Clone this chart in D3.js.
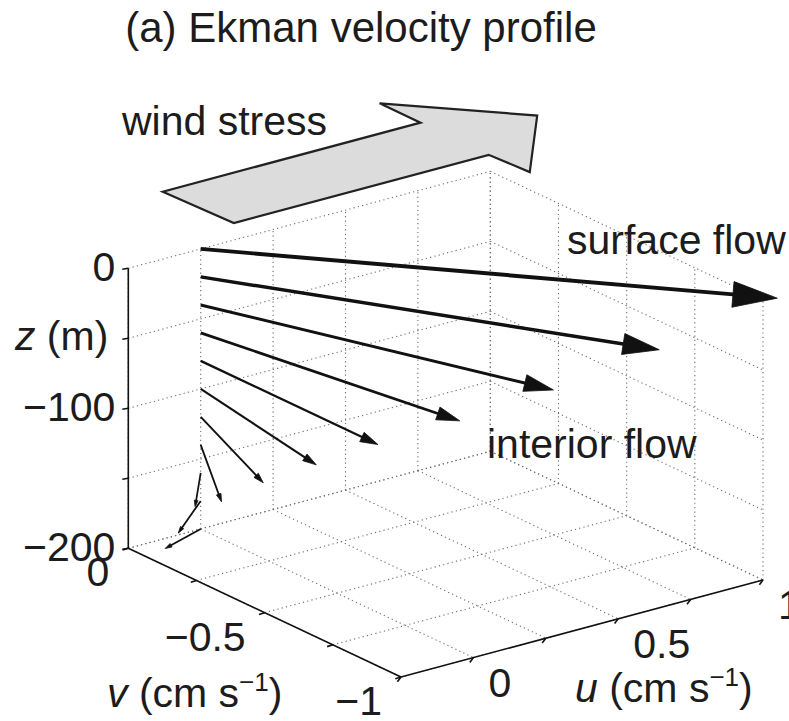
<!DOCTYPE html>
<html><head><meta charset="utf-8">
<script src="https://cdn.jsdelivr.net/npm/d3@7"></script>
<style>
body{margin:0;background:#fff}
svg{display:block}
text{font-family:"Liberation Sans",Arial,Helvetica,sans-serif;fill:#1c1c1c}
</style>
</head><body>
<svg id="c" width="789" height="721"></svg>
<script>
// ---------------- data ----------------
const depths = [0, -20, -40, -60, -80, -100, -120, -140, -160, -180, -200];      // z (m)
const uVel   = [1.04, 0.67, 0.38, 0.16, 0.00, -0.10, -0.17, -0.22, -0.17, -0.20, -0.17]; // u (cm/s)
const vVel   = [-1.01, -0.97, -0.89, -0.78, -0.65, -0.53, -0.41, -0.31, -0.16, -0.13, -0.05]; // v (cm/s)

const uTicks = [-0.25, 0, 0.25, 0.5, 0.75, 1];
const vTicks = [0, -0.25, -0.5, -0.75, -1];
const zTicks = [0, -50, -100, -150, -200];
const uLabelTicks = [0, 0.5, 1];
const uLabelTexts = ["0", "0.5", "1"];
const vLabelTicks = [0, -0.5, -1];
const vLabelTexts = ["0", "\u22120.5", "\u22121"];
const zLabelTicks = [0, -100, -200];
const zLabelTexts = ["0", "\u2212100", "\u2212200"];

// wind-stress arrow outline (u, v) lying flat at height windZ
const windU = [-0.47, -0.46, 0.42, 0.43, 0.71, 0.42, 0.42];
const windV = [-0.36, -0.61, -0.61, -0.75, -0.48, -0.21, -0.36];
const windZ = 100;

// ---------------- projection ----------------
const su = d3.scaleLinear().domain([-0.25, 1]).range([0, 1]);
const sv = d3.scaleLinear().domain([0, -1]).range([0, 1]);
const sz = d3.scaleLinear().domain([-200, 0]).range([0, 1]);
const O = [128.3, 548.3], U = [362, -97], V = [272.7, 128.7], Z = [0, -280];
function P(u, v, z) {
  const a = su(u), b = sv(v), c = sz(z);
  return [O[0] + a*U[0] + b*V[0] + c*Z[0], O[1] + a*U[1] + b*V[1] + c*Z[1]];
}

const svg = d3.select("#c");
const line = d3.line();

// ---------------- grid ----------------
const grid = svg.append("g").attr("fill", "none").attr("stroke", "#555")
  .attr("stroke-width", 1.1).attr("stroke-dasharray", "1.2,3.2").attr("opacity", 0.85);
const segs = [];
// floor
uTicks.forEach(u => segs.push([P(u, 0, -200), P(u, -1, -200)]));
vTicks.forEach(v => segs.push([P(-0.25, v, -200), P(1, v, -200)]));
// back wall v = 0
uTicks.forEach(u => segs.push([P(u, 0, -200), P(u, 0, 0)]));
zTicks.forEach(z => segs.push([P(-0.25, 0, z), P(1, 0, z)]));
// back wall u = 1
vTicks.forEach(v => segs.push([P(1, v, -200), P(1, v, 0)]));
zTicks.forEach(z => segs.push([P(1, 0, z), P(1, -1, z)]));
grid.selectAll("path").data(segs).join("path").attr("d", d => line(d));

// ---------------- axes ----------------
const ax = svg.append("g").attr("fill", "none").attr("stroke", "#111").attr("stroke-width", 1.6);
ax.append("path").attr("d", line([P(-0.25, 0, 0), P(-0.25, 0, -200)]));
ax.append("path").attr("d", line([P(-0.25, 0, -200), P(-0.25, -1, -200)]));
ax.append("path").attr("d", line([P(-0.25, -1, -200), P(1, -1, -200)]));
const tl = 6;
zTicks.forEach(z => { const p = P(-0.25, 0, z); ax.append("path").attr("d", line([p, [p[0]-tl, p[1]+1]])); });
vTicks.forEach(v => { const p = P(-0.25, v, -200); ax.append("path").attr("d", line([p, [p[0]-tl*0.95, p[1]+tl*0.3]])); });
uTicks.forEach(u => { const p = P(u, -1, -200); ax.append("path").attr("d", line([p, [p[0]-tl*0.6, p[1]+tl*0.8]])); });

// ---------------- tick labels ----------------
const fs = 41;
zLabelTicks.forEach((z, i) => {
  const p = P(-0.25, 0, z);
  svg.append("text").attr("x", p[0]-13).attr("y", p[1]+13).attr("text-anchor", "end")
    .attr("font-size", fs).text(zLabelTexts[i]);
});
vLabelTicks.forEach((v, i) => {
  const p = P(-0.25, v, -200);
  svg.append("text").attr("x", p[0]-19).attr("y", p[1]+38).attr("text-anchor", "end")
    .attr("font-size", fs).text(vLabelTexts[i]);
});
uLabelTicks.forEach((u, i) => {
  const p = P(u, -1, -200);
  svg.append("text").attr("x", p[0]+15).attr("y", p[1]+39).attr("text-anchor", "start")
    .attr("font-size", fs).text(uLabelTexts[i]);
});

// axis titles
function unitLabel(x, y, sym, anchor) {
  const t = svg.append("text").attr("x", x).attr("y", y).attr("font-size", fs).attr("text-anchor", anchor || "start");
  t.append("tspan").attr("font-style", "italic").text(sym);
  t.append("tspan").text(" (cm s");
  t.append("tspan").attr("font-size", 26).attr("dy", -16).text("\u22121");
  t.append("tspan").attr("dy", 16).text(")");
}
unitLabel(107, 707, "v");
unitLabel(575, 702, "u");
{
  const p = P(-0.25, 0, -50);
  const t = svg.append("text").attr("x", p[0]-20).attr("y", p[1]+12).attr("text-anchor", "end").attr("font-size", fs);
  t.append("tspan").attr("font-style", "italic").text("z");
  t.append("tspan").text(" (m)");
}

// ---------------- wind stress arrow ----------------
const windPts = windU.map((u, i) => P(u, windV[i], windZ));
svg.append("path").attr("d", line(windPts) + "Z")
  .attr("fill", "#dcdcdc").attr("stroke", "#222").attr("stroke-width", 2.2).attr("stroke-linejoin", "miter");

// ---------------- Ekman velocity arrows ----------------
const arr = svg.append("g");
depths.forEach((z, i) => {
  const s = P(0, 0, z), e = P(uVel[i], vVel[i], z);
  const dx = e[0]-s[0], dy = e[1]-s[1], L = Math.hypot(dx, dy);
  const ux = dx/L, uy = dy/L, nx = -uy, ny = ux;
  const hl = 4 + 0.07*L, hw = 0.29*hl;
  const lw = 1.6 + 0.004*L;
  const b = [e[0]-ux*hl, e[1]-uy*hl];
  arr.append("path").attr("d", line([s, [e[0]-ux*hl*0.6, e[1]-uy*hl*0.6]]))
    .attr("stroke", "#111").attr("stroke-width", lw).attr("fill", "none");
  arr.append("path").attr("d", line([e, [b[0]+nx*hw, b[1]+ny*hw], [b[0]-nx*hw, b[1]-ny*hw]]) + "Z")
    .attr("fill", "#111").attr("stroke", "#111").attr("stroke-width", 0.8).attr("stroke-linejoin", "miter");
});

// ---------------- annotations ----------------
svg.append("text").attr("x", 361).attr("y", 42).attr("text-anchor", "middle").attr("font-size", 42)
  .text("(a) Ekman velocity profile");
svg.append("text").attr("x", 122).attr("y", 135).attr("font-size", fs).text("wind stress");
svg.append("text").attr("x", 567).attr("y", 254).attr("font-size", fs).text("surface flow");
svg.append("text").attr("x", 487).attr("y", 458).attr("font-size", fs).text("interior flow");
</script>
</body></html>
